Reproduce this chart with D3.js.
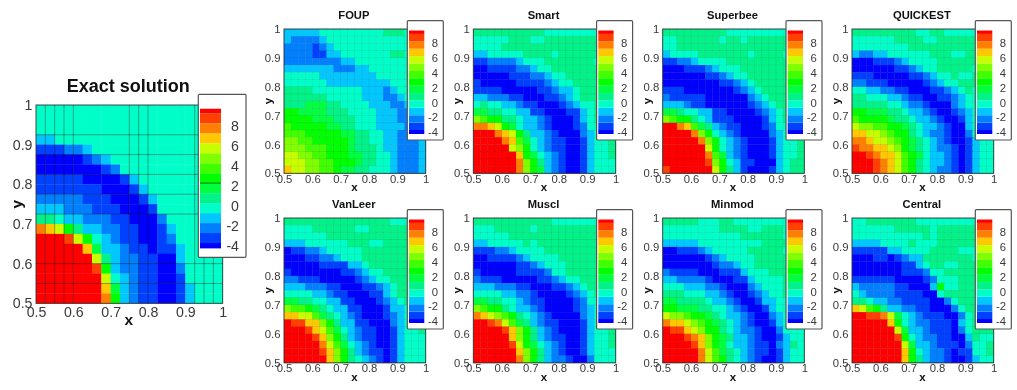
<!DOCTYPE html>
<html>
<head>
<meta charset="utf-8">
<script src="https://cdn.jsdelivr.net/npm/d3@7"></script>
<style>
  html, body { margin: 0; background: #fff; }
  svg { display: block; filter: blur(0.5px); font-family: "Liberation Sans", Arial, sans-serif; }
</style>
</head>
<body>
<svg id="chart" width="1017" height="390"></svg>
<script>
// contour band values, top row first, left column first
const exactSolution = [
  [0,0,0,0,0,0,0,0,0,0,0,0,0,0,0,0,0,0,0,0],
  [0,0,0,0,0,0,0,0,0,0,0,0,0,0,0,0,0,0,0,0],
  [0,0,0,0,0,0,0,0,0,0,0,0,0,0,0,0,0,0,0,0],
  [-1,-1,0,0,0,0,0,0,0,0,0,0,0,0,0,0,0,0,0,0],
  [-3,-3,-3,-2,-2,-1,0,0,0,0,0,0,0,0,0,0,0,0,0,0],
  [-4,-4,-4,-4,-4,-3,-2,-1,0,0,0,0,0,0,0,0,0,0,0,0],
  [-4,-4,-4,-4,-4,-4,-4,-3,-2,0,0,0,0,0,0,0,0,0,0,0],
  [-3,-3,-3,-3,-3,-4,-4,-4,-4,-3,-1,0,0,0,0,0,0,0,0,0],
  [-3,-3,-3,-3,-3,-3,-3,-4,-4,-4,-3,-1,0,0,0,0,0,0,0,0],
  [-2,-2,-2,-2,-2,-3,-3,-3,-4,-4,-4,-3,-1,0,0,0,0,0,0,0],
  [-1,-1,-1,-2,-2,-2,-3,-3,-3,-4,-4,-4,-3,0,0,0,0,0,0,0],
  [1,1,0,-1,-1,-2,-2,-2,-3,-3,-4,-4,-4,-2,0,0,0,0,0,0],
  [8,7,6,3,1,-1,-1,-2,-2,-3,-3,-4,-4,-3,-1,0,0,0,0,0],
  [10,10,10,9,6,3,0,-1,-2,-3,-3,-4,-4,-3,-2,0,0,0,0,0],
  [10,10,10,10,10,7,2,-1,-1,-2,-3,-3,-4,-3,-3,-1,0,0,0,0],
  [10,10,10,10,10,10,6,1,-1,-2,-2,-3,-3,-4,-4,-1,0,0,0,0],
  [10,10,10,10,10,10,9,3,-1,-2,-2,-3,-3,-4,-4,-2,0,0,0,0],
  [10,10,10,10,10,10,10,6,0,-1,-2,-3,-3,-4,-4,-3,0,0,0,0],
  [10,10,10,10,10,10,10,7,2,-1,-2,-3,-3,-4,-4,-3,-1,0,0,0],
  [10,10,10,10,10,10,10,8,3,-1,-2,-3,-3,-4,-4,-3,-1,0,0,0]
];
const foup = [
  [-1,-1,-1,-1,-1,0,0,0,0,0,0,0,0,0,1,1,1,0,0,0],
  [-1,-2,-2,-2,-2,-1,0,0,0,0,0,0,0,0,0,0,0,0,0,0],
  [-2,-2,-2,-2,-3,-2,-1,0,0,0,0,0,0,0,0,0,0,0,0,0],
  [-2,-2,-2,-2,-3,-3,-1,-1,0,0,0,0,0,0,0,1,1,0,0,0],
  [-2,-2,-2,-2,-2,-2,-2,-2,-1,-1,0,0,0,0,0,0,0,0,0,0],
  [-1,-1,-1,-1,-1,-1,-1,-2,-2,-2,-1,-1,0,0,0,0,0,0,0,0],
  [0,0,0,0,0,-1,-1,-1,-1,-1,-1,-1,-1,0,0,0,0,0,0,0],
  [0,0,0,0,0,0,-1,-1,-1,-1,-1,-1,-1,-1,-1,0,0,0,0,0],
  [1,1,1,1,0,0,0,0,0,0,0,-1,-1,-1,-2,-1,0,0,0,0],
  [1,1,1,1,1,1,0,0,0,0,0,-1,-1,-1,-2,-2,-1,0,0,0],
  [1,1,1,2,2,2,1,1,0,0,0,0,-1,-1,-1,-2,-2,-1,0,0],
  [3,3,2,2,2,2,1,1,1,0,0,0,0,-1,-1,-1,-2,-2,-1,0],
  [3,3,3,3,2,2,2,1,1,1,0,0,0,-1,-1,-1,-2,-2,-1,-1],
  [4,3,3,3,3,3,2,2,1,1,0,0,0,-1,-1,-1,-1,-2,-1,-1],
  [4,4,4,3,3,3,3,3,2,2,1,1,0,0,-1,-1,-2,-2,-2,-1],
  [5,5,4,4,3,3,3,3,3,2,1,1,0,0,-1,-1,-2,-2,-2,-1],
  [5,5,5,4,4,4,3,3,3,2,1,1,1,0,-1,-1,-2,-2,-2,-1],
  [6,6,5,5,4,4,3,3,3,2,2,1,1,0,0,-1,-2,-2,-2,-1],
  [6,6,6,5,5,4,4,3,3,3,2,1,1,0,0,-1,-2,-2,-2,-1],
  [7,6,6,5,5,4,4,3,2,2,1,1,0,0,0,-1,-2,-2,-2,-1]
];
const smart = [
  [1,1,1,1,1,1,1,1,1,1,0,0,0,0,0,0,0,0,0,0],
  [0,0,0,0,0,1,1,1,0,0,1,1,1,1,1,1,1,1,1,1],
  [0,0,0,0,1,1,1,1,1,1,1,1,1,1,1,1,1,1,1,1],
  [-1,-1,0,0,0,0,0,1,1,1,1,0,1,1,1,1,1,1,1,0],
  [-3,-3,-2,-2,-2,-2,-1,0,0,0,1,1,1,1,1,1,1,0,0,0],
  [-4,-4,-3,-3,-3,-3,-2,-2,-1,0,0,1,1,1,1,1,1,1,0,0],
  [-4,-4,-4,-4,-4,-3,-3,-3,-2,-2,-1,0,0,1,1,1,1,1,1,0],
  [-3,-4,-4,-4,-4,-4,-3,-3,-3,-3,-2,-1,0,0,1,1,1,1,1,1],
  [-3,-3,-3,-3,-4,-4,-4,-4,-4,-3,-3,-2,-1,-1,0,1,1,1,1,1],
  [-1,-1,-2,-2,-2,-3,-3,-4,-4,-4,-3,-3,-2,-1,0,1,1,1,1,1],
  [0,1,0,0,-1,-1,-2,-3,-3,-4,-4,-4,-3,-2,-1,0,0,1,1,1],
  [2,2,1,1,0,0,-1,-1,-3,-3,-4,-4,-4,-3,-3,-1,0,1,1,1],
  [5,4,3,3,1,1,0,-1,-1,-2,-3,-4,-4,-4,-3,-1,0,1,1,1],
  [8,8,7,6,3,2,0,-1,-1,-2,-3,-4,-4,-4,-3,-2,0,0,1,1],
  [10,10,10,8,7,6,3,1,-1,-1,-2,-3,-4,-4,-4,-2,-1,0,1,1],
  [10,10,10,10,8,7,4,2,0,-1,-2,-3,-3,-4,-4,-3,-1,0,0,1],
  [10,10,10,10,10,6,5,3,0,-1,-2,-3,-3,-4,-4,-3,-1,0,0,1],
  [10,10,10,10,10,10,7,3,2,0,-1,-2,-3,-4,-4,-3,-1,0,0,1],
  [10,10,10,10,10,10,8,5,3,1,-1,-2,-3,-4,-4,-3,-1,0,0,0],
  [10,10,10,10,10,10,8,5,3,2,-1,-2,-3,-4,-4,-3,-1,0,0,0]
];
const superbee = [
  [1,1,1,1,1,1,1,1,1,0,0,0,0,0,0,0,0,0,0,0],
  [0,0,1,1,1,1,1,1,0,1,1,0,1,1,1,1,1,1,1,0],
  [0,0,1,1,1,1,1,1,1,1,1,1,1,1,1,1,1,1,1,0],
  [-1,0,0,0,0,1,1,1,1,1,1,1,0,1,1,1,1,0,0,0],
  [-3,-3,-2,-2,-1,0,0,0,0,1,1,1,1,1,1,1,1,1,1,0],
  [-4,-4,-4,-3,-3,-3,-2,-1,0,0,0,1,1,1,1,1,1,1,0,0],
  [-4,-4,-4,-4,-4,-4,-3,-3,-2,-1,0,0,1,1,1,1,1,1,1,0],
  [-4,-4,-4,-4,-4,-4,-4,-4,-3,-3,-2,-1,0,1,1,1,1,1,1,1],
  [-3,-3,-3,-4,-4,-4,-4,-4,-4,-4,-3,-2,-1,0,1,1,1,1,1,1],
  [-2,-3,-3,-3,-3,-3,-4,-4,-4,-4,-4,-4,-2,-1,0,1,1,1,1,1],
  [-1,-1,-1,-2,-3,-3,-4,-4,-4,-4,-4,-4,-3,-2,-1,0,1,1,1,1],
  [2,2,1,0,0,-1,-1,-3,-3,-4,-4,-4,-4,-3,-2,-1,0,1,1,1],
  [5,4,3,3,1,0,-1,-3,-3,-3,-4,-4,-4,-4,-3,-1,0,1,1,1],
  [10,10,8,7,4,2,1,-1,-2,-3,-3,-4,-4,-4,-3,-2,0,0,1,1],
  [10,10,10,10,8,5,3,0,-1,-2,-3,-4,-4,-4,-4,-2,-1,0,1,1],
  [10,10,10,10,10,8,5,3,0,-1,-2,-3,-4,-4,-4,-3,-1,0,0,1],
  [10,10,10,10,10,10,6,3,0,-1,-2,-3,-4,-4,-4,-3,-1,0,0,1],
  [10,10,10,10,10,10,8,4,2,-1,-2,-3,-4,-4,-4,-3,-1,0,0,1],
  [10,10,10,10,10,10,9,5,3,0,-1,-3,-3,-4,-4,-4,-1,0,1,1],
  [9,10,10,10,10,10,10,6,3,1,-1,-3,-4,-4,-4,-3,-1,0,1,1]
];
const quickest = [
  [1,1,1,1,1,1,1,1,1,0,0,1,1,0,0,0,0,0,0,0],
  [0,0,0,0,0,0,1,1,1,1,0,0,1,1,1,1,1,1,1,0],
  [0,0,0,0,0,0,0,0,1,1,1,1,1,1,1,1,1,1,1,0],
  [-1,-2,-2,-1,-1,0,0,0,0,0,0,1,1,1,0,0,1,1,1,0],
  [-4,-4,-4,-3,-3,-3,-2,-1,0,0,0,0,1,1,1,1,1,1,0,0],
  [-4,-4,-4,-4,-4,-4,-3,-3,-2,-1,0,0,1,1,1,1,1,0,0,0],
  [-3,-3,-3,-4,-4,-4,-4,-4,-3,-3,-2,-1,0,0,1,0,0,1,0,0],
  [-2,-2,-3,-3,-3,-4,-4,-4,-4,-4,-3,-2,-1,0,0,1,1,1,1,0],
  [0,0,-1,-1,-2,-2,-3,-3,-4,-4,-4,-3,-3,-2,-1,0,1,0,0,0],
  [1,1,0,0,0,-1,-1,-2,-3,-3,-4,-4,-3,-3,-2,-1,0,0,1,0],
  [1,1,1,1,1,0,0,-1,-2,-2,-3,-4,-4,-4,-2,-1,0,0,1,1],
  [3,3,2,2,2,1,1,0,-1,-1,-2,-3,-4,-4,-3,-2,-1,0,1,1],
  [4,3,3,3,3,2,1,1,0,-1,-1,-2,-3,-4,-4,-3,-1,0,1,1],
  [6,5,5,4,4,3,3,2,1,0,-1,-1,-2,-3,-4,-4,-1,0,1,1],
  [7,7,6,6,5,4,3,3,1,0,-1,-2,-2,-3,-4,-4,-2,0,1,1],
  [8,8,7,6,6,5,4,3,2,1,0,-1,-2,-3,-4,-4,-3,-1,0,0],
  [9,8,8,7,7,6,5,3,2,1,0,-1,-2,-2,-3,-4,-3,-1,0,0],
  [10,10,9,8,7,7,6,4,3,2,0,-1,-1,-2,-3,-4,-3,-1,0,0],
  [10,10,10,9,8,7,6,4,3,1,0,-1,-1,-2,-3,-4,-3,-1,0,0],
  [10,10,10,9,8,7,6,4,3,1,0,-1,-2,-2,-3,-4,-3,-1,0,0]
];
const vanLeer = [
  [1,1,1,1,1,1,1,1,1,1,1,1,1,1,1,0,0,0,0,0],
  [0,0,0,0,1,1,1,1,1,1,0,0,1,1,1,1,1,1,1,0],
  [0,0,0,0,0,0,1,1,1,1,1,1,1,1,1,1,1,1,0,0],
  [-1,-1,-1,0,0,0,0,0,0,1,1,1,0,0,1,1,1,1,1,0],
  [-4,-3,-3,-2,-2,-1,0,0,0,0,0,1,1,1,1,1,1,1,0,0],
  [-4,-4,-4,-3,-3,-2,-2,-1,0,0,0,1,1,1,1,1,1,1,0,0],
  [-4,-4,-4,-4,-4,-3,-3,-3,-3,-1,-1,0,1,1,1,1,1,1,0,0],
  [-3,-4,-4,-4,-4,-4,-4,-4,-3,-3,-2,-1,0,0,1,1,1,1,1,0],
  [-2,-2,-3,-3,-3,-4,-4,-4,-4,-4,-3,-2,-1,0,0,1,1,1,1,1],
  [-1,-1,-1,-2,-2,-2,-3,-3,-4,-4,-4,-3,-3,-2,-1,0,1,1,1,1],
  [0,0,0,0,-1,-1,-2,-3,-3,-4,-4,-4,-3,-3,-1,0,1,1,1,1],
  [2,2,1,1,0,0,-1,-1,-3,-3,-4,-4,-4,-3,-2,-1,0,1,1,1],
  [5,4,4,3,2,1,0,-1,-1,-3,-3,-4,-4,-4,-3,-1,-1,0,1,1],
  [7,7,6,6,4,2,1,0,-1,-2,-3,-4,-4,-4,-3,-2,-1,0,1,1],
  [10,9,9,7,7,5,3,1,-1,-1,-3,-3,-4,-4,-4,-2,-1,0,0,1],
  [10,10,10,9,7,6,4,2,0,-1,-2,-3,-3,-4,-4,-3,-1,0,0,1],
  [10,10,10,10,9,7,5,3,1,-1,-2,-3,-3,-4,-4,-3,-1,0,0,0],
  [10,10,10,10,10,8,6,4,2,0,-1,-2,-3,-4,-4,-3,-1,0,0,0],
  [10,10,10,10,10,9,7,5,3,1,-1,-2,-3,-3,-4,-3,-1,0,0,0],
  [10,10,10,10,10,10,7,5,3,1,0,-1,-2,-3,-4,-3,-1,0,0,0]
];
const muscl = [
  [1,1,1,1,1,1,1,1,1,1,1,0,0,0,0,0,0,0,0,0],
  [0,0,0,1,1,1,1,1,0,1,1,1,1,1,1,1,1,1,1,0],
  [0,0,0,0,0,1,1,1,1,1,1,1,1,1,1,1,1,1,0,0],
  [-1,-1,0,0,0,0,0,1,0,1,1,1,1,1,1,1,1,1,0,0],
  [-3,-3,-3,-2,-2,-1,0,0,0,0,1,1,1,1,1,1,1,1,0,0],
  [-4,-4,-3,-3,-3,-3,-2,-1,0,0,0,0,1,1,1,1,1,1,0,0],
  [-4,-4,-4,-4,-4,-4,-3,-3,-2,-1,0,0,0,1,1,1,1,1,1,0],
  [-3,-4,-4,-4,-4,-4,-3,-3,-3,-3,-2,0,0,1,1,1,1,1,1,0],
  [-2,-3,-3,-3,-4,-4,-4,-4,-4,-3,-3,-2,-1,0,0,1,1,1,1,1],
  [-1,-1,-1,-2,-2,-2,-3,-3,-4,-4,-4,-3,-3,-2,-1,0,1,1,1,1],
  [0,0,0,0,-1,-1,-2,-2,-3,-4,-4,-4,-4,-3,-2,-1,0,1,1,1],
  [2,2,1,1,0,0,-1,-2,-3,-3,-4,-4,-4,-4,-3,-2,0,0,1,1],
  [5,4,3,3,1,0,-1,-1,-2,-3,-4,-4,-4,-4,-3,-2,-1,0,1,1],
  [8,7,6,5,4,3,1,0,-1,-2,-3,-4,-4,-4,-4,-2,-1,0,1,1],
  [10,10,9,8,6,4,2,1,-1,-2,-3,-3,-4,-4,-4,-3,-1,0,1,1],
  [10,10,10,10,9,7,5,3,1,-1,-2,-3,-4,-4,-4,-3,-1,0,0,1],
  [10,10,10,10,10,7,5,3,1,-1,-2,-3,-3,-4,-4,-3,-1,0,0,1],
  [10,10,10,10,10,9,6,3,2,0,-1,-2,-3,-4,-4,-3,-1,0,0,1],
  [10,10,10,10,10,10,7,5,3,1,-1,-2,-3,-4,-4,-3,-1,0,0,0],
  [10,10,10,10,10,10,8,5,3,1,-1,-2,-2,-3,-4,-4,-2,0,0,0]
];
const minmod = [
  [1,1,1,1,1,0,0,0,1,1,0,0,0,0,0,0,0,0,0,0],
  [0,0,0,0,0,0,0,0,1,1,1,1,0,0,1,1,1,0,0,0],
  [0,0,0,0,0,0,0,0,0,0,0,1,1,1,1,1,1,0,0,0],
  [-1,-1,-1,-1,-1,0,0,0,0,0,0,0,0,0,1,1,1,1,1,0],
  [-4,-4,-3,-3,-3,-2,-1,0,0,0,0,0,1,1,1,1,1,0,0,0],
  [-4,-4,-4,-4,-4,-4,-3,-2,-1,0,0,0,0,1,1,1,1,1,0,0],
  [-4,-4,-4,-4,-4,-4,-4,-3,-2,-2,-1,0,0,1,1,1,1,1,0,0],
  [-2,-3,-3,-3,-3,-4,-4,-4,-3,-3,-3,-1,0,0,0,1,1,1,0,0],
  [-1,-1,-2,-2,-2,-2,-3,-4,-4,-4,-3,-3,-1,0,0,0,0,1,1,0],
  [0,0,0,-1,-1,-1,-2,-2,-3,-4,-4,-4,-2,-1,0,0,0,1,1,0],
  [1,1,1,0,0,0,-1,-1,-2,-3,-4,-4,-3,-2,-1,0,0,1,1,1],
  [2,2,1,1,1,1,0,-1,-1,-2,-3,-4,-4,-3,-1,-1,0,0,1,1],
  [3,3,2,2,2,1,1,0,0,-1,-2,-3,-4,-4,-3,-1,0,0,0,1],
  [6,5,5,4,3,3,2,1,0,-1,-1,-2,-3,-4,-4,-2,-1,0,0,0],
  [8,7,7,6,5,4,3,2,1,0,-1,-2,-3,-4,-4,-3,-1,0,0,0],
  [10,9,9,7,6,5,3,3,1,0,-1,-2,-2,-3,-4,-4,-2,0,0,0],
  [10,10,10,9,8,7,5,3,2,1,-1,-1,-2,-3,-4,-4,-3,-1,0,0],
  [10,10,10,10,9,7,5,3,2,0,-1,-1,-2,-3,-3,-4,-2,-1,1,0],
  [10,10,10,10,10,8,6,4,2,1,0,-1,-2,-3,-3,-4,-3,-1,0,0],
  [10,10,10,10,10,8,6,4,3,1,0,-1,-2,-3,-4,-4,-3,-1,0,0]
];
const central = [
  [0,0,1,1,1,1,1,1,1,0,0,0,0,0,0,0,0,0,0,0],
  [0,0,0,0,0,0,1,1,1,1,1,0,1,1,1,1,1,1,1,0],
  [0,0,0,0,0,0,0,0,0,0,1,0,1,1,1,1,1,1,1,0],
  [-1,-1,-1,-1,0,0,0,0,1,0,0,0,1,1,1,1,1,1,1,0],
  [-3,-3,-3,-3,-3,-1,-1,0,0,0,0,1,1,1,1,0,0,0,0,0],
  [-4,-4,-4,-3,-3,-4,-3,-2,-1,-1,1,1,1,1,1,1,1,0,0,0],
  [-4,-4,-4,-4,-4,-4,-4,-3,-3,-1,0,1,1,0,0,1,1,1,0,0],
  [-4,-4,-4,-4,-4,-4,-4,-3,-3,-3,-2,0,0,1,1,1,1,1,0,0],
  [-3,-3,-3,-3,-3,-3,-4,-4,-4,-4,-3,-2,0,0,0,1,1,1,0,0],
  [-1,-2,-2,-2,-2,-2,-3,-3,-4,-4,-4,-1,3,0,0,1,1,1,0,0],
  [0,-1,-2,-2,-2,-2,-3,-3,-3,-3,-4,-4,0,1,1,1,1,1,0,0],
  [1,1,0,-1,-1,-2,-2,-3,-3,-3,-3,-4,-4,-2,0,1,1,1,1,0],
  [7,6,4,3,1,-1,-1,-2,-2,-3,-3,-4,-4,-4,-2,0,1,1,1,1],
  [10,10,9,9,8,6,2,0,-1,-2,-3,-3,-3,-4,-4,-2,0,1,1,1],
  [10,10,10,10,10,7,3,0,-1,-2,-2,-3,-3,-3,-4,-1,0,1,1,1],
  [10,10,10,10,10,10,6,2,-1,-1,-2,-3,-3,-3,-4,-2,0,1,1,1],
  [10,10,10,10,10,10,9,3,0,-1,-2,-2,-3,-3,-4,-4,-1,1,0,0],
  [10,10,10,10,10,10,10,6,2,-1,-1,-2,-3,-3,-3,-4,-2,0,0,1],
  [10,10,10,10,10,10,10,7,3,0,-1,-2,-2,-3,-4,-3,-3,0,0,1],
  [10,10,10,10,10,10,10,7,3,1,-1,-2,-2,-3,-4,-4,-3,-1,0,0]
];

const bandValues = [-4,-3,-2,-1,0,1,2,3,4,5,6,7,8,9,10];
const bandColors = ['#0000ff','#0040ff','#0080ff','#00c8ff','#00ffc8','#00f288','#00ff40','#00ff00',
  '#40ff00','#80ff00','#c8ff00','#ffc800','#ff8000','#ff4000','#ff0000'];
const bandEdges = [-3.73,-2.73,-1.73,-0.73,0.27,1.27,2.27,3.27,4.27,5.27,6.27,7.27,8.27,9.27];
const legendRange = [-4.27, 9.73];
const axisTicks = [0.5,0.6,0.7,0.8,0.9,1];
const legendTicks = [8,6,4,2,0,-2,-4];
// the stray mesh lines in the exact solution panel
const exactLinesX = [0.525,0.55,0.575,0.6,0.75,0.775,0.8,0.925,0.95,0.975];
const exactLinesY = [0.925,0.875,0.825,0.775,0.725,0.6,0.55];
const exactLegendLine = [2.27];

const color = d3.scaleThreshold().domain(bandEdges).range(bandColors);
const svg = d3.select('#chart');
const tickColor = '#3a3a3a';

function drawPanel(p) {
  const x = d3.scaleLinear().domain([0.5, 1]).range([p.x0, p.x1]);
  const y = d3.scaleLinear().domain([0.5, 1]).range([p.y1, p.y0]);
  const size = 0.025;
  const g = svg.append('g');

  p.values.forEach((row, r) => {
    g.append('g').selectAll('rect').data(row).join('rect')
      .attr('x', (d, c) => x(0.5 + c * size))
      .attr('y', y(1 - r * size))
      .attr('width', x(0.5 + size) - x(0.5) + 0.3)
      .attr('height', y(0.5) - y(0.5 + size) + 0.3)
      .attr('fill', d => color(d))
      .attr('stroke', p.big ? 'none' : 'rgba(0,0,0,0.1)')
      .attr('stroke-width', 0.6);
  });

  if (p.big) {
    g.selectAll('.vline').data(exactLinesX).join('line')
      .attr('x1', d => x(d)).attr('x2', d => x(d))
      .attr('y1', p.y0).attr('y2', p.y1)
      .attr('stroke', 'rgba(0,0,0,0.45)').attr('stroke-width', 0.8);
    g.selectAll('.hline').data(exactLinesY).join('line')
      .attr('x1', p.x0).attr('x2', p.x1)
      .attr('y1', d => y(d)).attr('y2', d => y(d))
      .attr('stroke', 'rgba(0,0,0,0.45)').attr('stroke-width', 0.8);
  }

  g.append('rect')
    .attr('x', p.x0).attr('y', p.y0)
    .attr('width', p.x1 - p.x0).attr('height', p.y1 - p.y0)
    .attr('fill', 'none').attr('stroke', '#333').attr('stroke-width', 0.9);

  const xAxis = d3.axisBottom(x).tickValues(axisTicks).tickFormat(d3.format('~g'))
    .tickSize(0).tickPadding(p.big ? 3.5 : 1.5);
  const yAxis = d3.axisLeft(y).tickValues(axisTicks).tickFormat(d3.format('~g'))
    .tickSize(0).tickPadding(3.5);
  const xg = g.append('g').attr('transform', `translate(0,${p.y1})`).call(xAxis);
  const yg = g.append('g').attr('transform', `translate(${p.x0},0)`).call(yAxis);
  [xg, yg].forEach(a => {
    a.select('.domain').remove();
    a.selectAll('text').attr('font-size', p.tickSize).attr('fill', tickColor)
      .attr('font-family', '"Liberation Sans", Arial, sans-serif');
  });

  g.append('text')
    .attr('x', (p.x0 + p.x1) / 2 - 1).attr('y', p.titleY)
    .attr('text-anchor', 'middle').attr('font-weight', 'bold')
    .attr('font-size', p.titleSize).attr('fill', '#111').text(p.title);
  g.append('text')
    .attr('x', (p.x0 + p.x1) / 2 - 0.5).attr('y', p.y1 + (p.big ? 22 : 18))
    .attr('text-anchor', 'middle').attr('font-weight', 'bold')
    .attr('font-size', p.labelSize).attr('fill', '#111').text('x');
  g.append('text')
    .attr('transform', `translate(${p.x0 - (p.big ? 14.5 : 12)},${(p.y0 + p.y1) / 2}) rotate(-90)`)
    .attr('text-anchor', 'middle').attr('font-weight', 'bold')
    .attr('font-size', p.labelSize).attr('fill', '#111').text('y');

  // contour legend box sits over the top right corner of the plot
  const l = p.legend;
  const ly = d3.scaleLinear().domain([-4, 8]).range([l.y4, l.y8]);
  g.append('rect')
    .attr('x', l.x).attr('y', l.top)
    .attr('width', l.w).attr('height', l.bottom - l.top).attr('rx', 1)
    .attr('fill', '#fff').attr('stroke', '#555').attr('stroke-width', 1.2);
  g.selectAll('.band').data(bandValues).join('rect')
    .attr('x', l.barX)
    .attr('y', d => ly(Math.min(d + 0.27, legendRange[1])))
    .attr('width', l.barW)
    .attr('height', d => ly(Math.max(d - 0.73, legendRange[0])) - ly(Math.min(d + 0.27, legendRange[1])))
    .attr('fill', d => color(d));
  if (p.big) {
    g.selectAll('.legendline').data(exactLegendLine).join('line')
      .attr('x1', l.barX).attr('x2', l.barX + l.barW)
      .attr('y1', d => ly(d)).attr('y2', d => ly(d))
      .attr('stroke', 'rgba(0,0,0,0.6)').attr('stroke-width', 0.9);
  }
  g.selectAll('.legendtick').data(legendTicks).join('text')
    .attr('x', l.textX).attr('y', d => ly(d)).attr('dy', '0.36em')
    .attr('text-anchor', 'end').attr('font-size', p.tickSize).attr('fill', tickColor)
    .text(d => d);
}

function smallPanel(title, values, x0, x1, y0, y1, titleY) {
  return {
    title, values, x0, x1, y0, y1, titleY, big: false,
    tickSize: 11.3, titleSize: 11.2, labelSize: 11.5,
    legend: {
      x: x0 + 123.3, w: 36, top: y0 - 8.3, bottom: y0 + 111,
      barX: x0 + 125, barW: 15.3, textX: x0 + 154,
      y8: y0 + 14.3, y4: y0 + 103
    }
  };
}

const rowTop = [29, 173.3, 18.5];
const rowBottom = [218, 362.8, 207.7];
[
  smallPanel('FOUP', foup, 284, 425.7, ...rowTop),
  smallPanel('Smart', smart, 473.3, 615.7, ...rowTop),
  smallPanel('Superbee', superbee, 662.7, 804.3, ...rowTop),
  smallPanel('QUICKEST', quickest, 852, 993.7, ...rowTop),
  smallPanel('VanLeer', vanLeer, 284, 425.7, ...rowBottom),
  smallPanel('Muscl', muscl, 473.3, 615.7, ...rowBottom),
  smallPanel('Minmod', minmod, 662.7, 804.3, ...rowBottom),
  smallPanel('Central', central, 852, 993.7, ...rowBottom),
  {
    title: 'Exact solution', values: exactSolution, x0: 36, x1: 222.7, y0: 105, y1: 303.3, titleY: 91.7,
    big: true, tickSize: 14.2, titleSize: 18, labelSize: 15.5,
    legend: {
      x: 198.3, w: 47.7, top: 94.3, bottom: 257.3,
      barX: 200, barW: 21, textX: 239,
      y8: 126, y4: 245.7
    }
  }
].forEach(drawPanel);
</script>
</body>
</html>
